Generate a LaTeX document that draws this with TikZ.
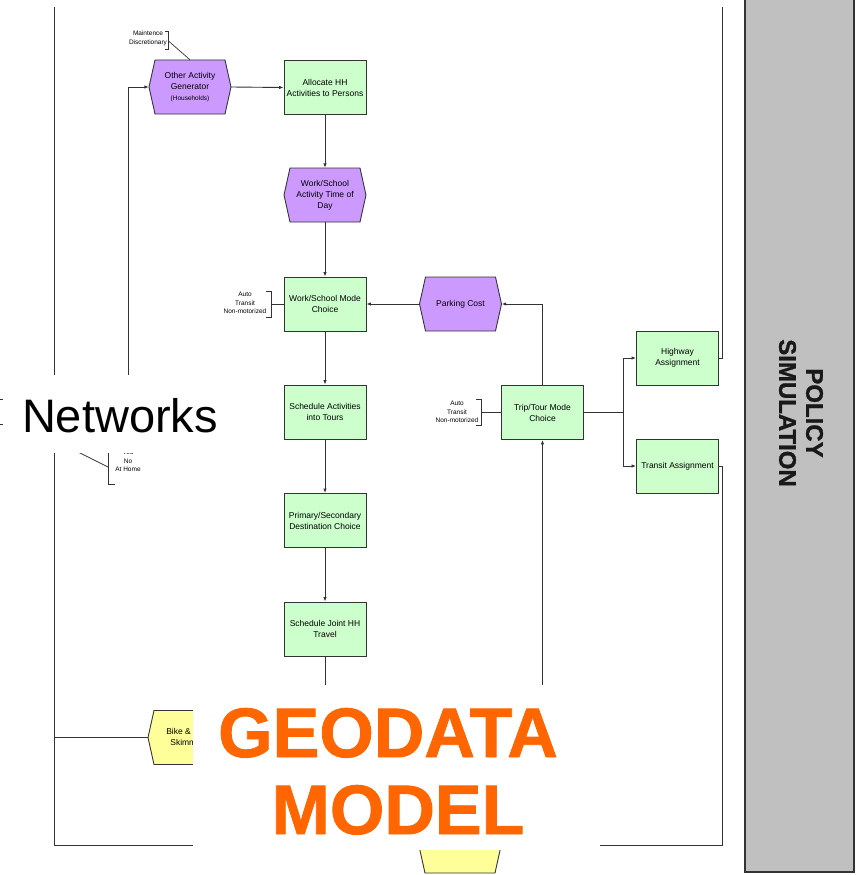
\documentclass[tikz,border=0pt]{standalone}
\usepackage{fontspec}
\setmainfont{Liberation Sans}
\newfontface\heavyfont{Liberation Sans Bold}[FakeBold=1.2]
\usetikzlibrary{arrows.meta}
\definecolor{boxgreen}{HTML}{CCFFCC}
\definecolor{hexpurple}{HTML}{CC99FF}
\definecolor{hexyellow}{HTML}{FFFF99}
\definecolor{policygray}{HTML}{C0C0C0}
\definecolor{geoorange}{HTML}{FF6600}
\definecolor{linegray}{HTML}{333333}
\tikzset{
  conn/.style={draw=linegray, line width=0.9pt},
  arr/.style={conn, -{Latex[length=4.5pt,width=3.5pt]}},
  boxnode/.style={draw=linegray, line width=0.9pt, fill=boxgreen, minimum width=82pt, minimum height=54pt, inner sep=0pt, align=center, font=\fontsize{8.5}{11}\selectfont},
  hexline/.style={draw=linegray, line width=0.9pt},
  hexlabel/.style={minimum width=82pt, minimum height=54pt, inner sep=0pt, align=center, font=\fontsize{8.5}{11}\selectfont},
  smalllabel/.style={font=\fontsize{6.5}{8.5}\selectfont, align=center, inner sep=0pt},
  cover/.style={fill=white, draw=none},
}
\newcommand{\myhex}[5]{%
  \draw[hexline, fill=#4] (#2-41,#3) -- (#2-35,#3-27) -- (#2+35,#3-27) -- (#2+41,#3) -- (#2+35,#3+27) -- (#2-35,#3+27) -- cycle;
  \node[hexlabel] (#1) at (#2,#3) {#5};
}
\begin{document}
\begin{tikzpicture}[x=1pt,y=-1pt]
\useasboundingbox (0,0) rectangle (861,875);

% policy simulation panel
\draw[draw=linegray, line width=1.3pt, fill=policygray] (745,-3) rectangle (854,872);
\node[font=\heavyfont\fontsize{24}{27}\selectfont, align=center, rotate=-90, text=black!90] (policy) at (801,413) {POLICY\\SIMULATION};

% hexagons
\myhex{other}{190}{87}{hexpurple}{Other Activity\\Generator\\{\fontsize{6.5}{8}\selectfont(Households)}}
\myhex{wstod}{325}{195}{hexpurple}{Work/School\\Activity Time of\\Day}
\myhex{parking}{460.5}{304}{hexpurple}{Parking Cost}
\myhex{bike}{189}{737.5}{hexyellow}{Bike \& Walk\\Skimming}
\myhex{bottomhex}{460}{846}{hexyellow}{}

% boxes
\node[boxnode] (alloc) at (325,87.5) {Allocate HH\\Activities to Persons};
\node[boxnode] (wsmode) at (325,304) {Work/School Mode\\Choice};
\node[boxnode] (sched) at (325,412) {Schedule Activities\\into Tours};
\node[boxnode] (dest) at (325,520.5) {Primary/Secondary\\Destination Choice};
\node[boxnode] (joint) at (325,629) {Schedule Joint HH\\Travel};
\node[boxnode] (trip) at (542.5,412.5) {Trip/Tour Mode\\Choice};
\node[boxnode] (highway) at (677.5,358) {Highway\\Assignment};
\node[boxnode] (transit) at (677.5,466) {Transit Assignment};

% hidden coordinates (covered by overlays)
\coordinate (hidnet) at (128,410);
\coordinate (hidyn) at (60,443);
\coordinate (hidjoint) at (325,705);
\coordinate (hidtrip) at (542.5,705);

% vertical chain
\draw[arr] (other.east) -- (alloc.west);
\draw[arr] (alloc.south) -- (wstod.north);
\draw[arr] (wstod.south) -- (wsmode.north);
\draw[arr] (wsmode.south) -- (sched.north);
\draw[arr] (sched.south) -- (dest.north);
\draw[arr] (dest.south) -- (joint.north);
\draw[conn] (joint.south) -- (hidjoint);

% right part
\draw[arr] (trip.north) |- (parking.east);
\draw[arr] (parking.west) -- (wsmode.east);
\draw[arr] (hidtrip) -- (trip.south);
\coordinate (split) at (623,412.5);
\draw[conn] (trip.east) -- (split);
\draw[arr] (split) |- (highway.west);
\draw[arr] (split) |- (transit.west);
\draw[conn] (highway.east) -- (722,358) -- (722,7);
\draw[conn] (transit.east) -- (722,466) -- (722,845.5) -- (54,845.5) -- (54,7);

% left part
\draw[conn] (54,737.5) -- (bike.west);
\draw[arr] (hidnet) |- (other.west);

% labels with brackets
\node[smalllabel, font=\fontsize{6.5}{9}\selectfont] (mlab) at (148,38.5) {Maintence\\Discretionary};
\draw[conn, line width=0.7pt] (165,31) -- (168.5,31) -- (168.5,49) -- (165,49);
\coordinate (mbr) at (168.5,41);
\draw[conn, line width=0.7pt] (mbr) -- (other.north);

\node[smalllabel] (wslab) at (245,303) {Auto\\Transit\\Non-motorized};
\draw[conn, line width=0.7pt] (266,291) -- (271,291) -- (271,317) -- (266,317);
\coordinate (wsbr) at (271,304);
\draw[conn] (wsbr) -- (wsmode.west);

\node[smalllabel] (ttlab) at (457,412) {Auto\\Transit\\Non-motorized};
\draw[conn, line width=0.7pt] (476,399) -- (481,399) -- (481,425) -- (476,425);
\coordinate (ttbr) at (481,412.5);
\draw[conn] (ttbr) -- (trip.west);

\node[smalllabel] (ynlab) at (128,461) {Yes\\No\\At Home};
\draw[conn, line width=0.7pt] (115,440) -- (108,440) -- (108,484) -- (115,484);
\coordinate (ynbr) at (108,467);
\draw[conn, line width=0.7pt] (hidyn) -- (ynbr);

% far-left bracket ticks
\draw[conn, line width=0.7pt] (0,399) -- (3,399);
\draw[conn, line width=0.7pt] (0,424) -- (3,424);

% overlays
\fill[cover] (4,375) rectangle (228,453);
\node[font=\fontsize{47}{50}\selectfont, anchor=base, inner sep=0pt] (networks) at (120,432) {Networks};

\fill[cover] (193,685) rectangle (600,850);
\node[font=\heavyfont\fontsize{70}{77}\selectfont, text=geoorange, anchor=base, inner sep=0pt] (geo1) at (388,757) {GEODATA};
\node[font=\heavyfont\fontsize{70}{77}\selectfont, text=geoorange, anchor=base, inner sep=0pt] (geo2) at (398,834) {MODEL};
\end{tikzpicture}
\end{document}
